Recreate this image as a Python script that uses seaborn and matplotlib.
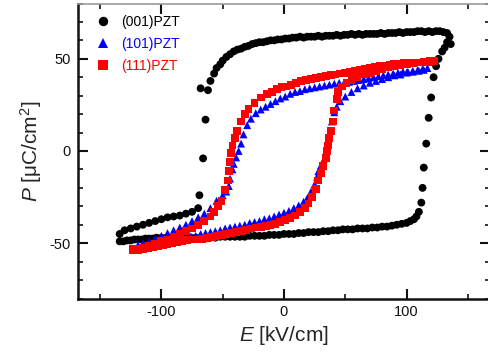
import numpy as np
import pandas as pd
import matplotlib
matplotlib.use("Agg")
import matplotlib.pyplot as plt
from matplotlib.ticker import MultipleLocator
import seaborn as sns

# ---------------- data ----------------
series_names = ["(001)PZT", "(101)PZT", "(111)PZT"]
series_colors = ["#000000", "#0000ff", "#ff0000"]
series_markers = ["o", "^", "s"]

# (001)PZT : descending branch then ascending branch
e_001 = [136, 135, 133, 130, 127, 124, 121, 118, 115, 112, 109, 106, 103, 100, 97, 94, 91, 88, 85, 82,
         79, 76, 73, 70, 67, 64, 61, 58, 55, 52, 49, 46, 43, 40, 37, 34, 31, 28, 25, 22, 19, 16, 13, 10,
         7, 4, 1, -2, -5, -8, -11, -14, -17, -20, -23, -26, -29, -32, -35, -38, -41, -44, -47, -50, -52,
         -55, -57, -60, -68, -62, -64, -66, -69, -70, -75, -80, -85, -90, -95, -100, -105, -110, -115,
         -120, -125, -130, -134,
         -134, -131, -128, -125, -122, -119, -116, -113, -110, -107, -104, -100, -96, -92, -88, -84, -80,
         -76, -72, -68, -64, -60, -56, -52, -48, -44, -40, -36, -32, -28, -24, -20, -16, -12, -8, -4, 0,
         4, 8, 12, 16, 20, 24, 28, 32, 36, 40, 44, 48, 52, 56, 60, 64, 68, 72, 76, 80, 84, 88, 92, 96,
         100, 103, 106, 108, 110, 112, 113, 114, 116, 118, 120, 122, 124, 126, 129, 131, 133]
p_001 = [58, 62, 64, 64.5, 65, 65, 64.5, 65, 64.5, 65, 65, 64.5, 64.5, 64.5, 64, 64.5, 64, 64, 64, 63.5,
         64, 63.5, 63.5, 63.5, 63.5, 63, 63.5, 63, 63.5, 63, 63, 62.5, 63, 62.5, 62.5, 62.5, 62, 62.5, 62,
         62, 62, 61.5, 62, 61.5, 61.5, 61, 61, 60.5, 60.5, 60, 60, 59.5, 59, 59, 58.5, 58, 57, 56.5, 55.5,
         55, 54, 52.5, 51, 49, 47, 45, 42, 38, 34, 33, 17, -4, -24, -31, -33, -34, -35, -35.5, -36, -37,
         -38, -39, -40, -41, -42, -43, -45,
         -49, -49, -48.5, -48.5, -48, -48, -48, -47.5, -47.5, -47.5, -47, -47, -47, -47, -47, -47, -47,
         -47, -47, -47, -47, -47, -47, -46.5, -46.5, -46.5, -46.5, -46.5, -46.5, -46, -46, -46, -46, -45.5,
         -45.5, -45.5, -45, -45, -45, -44.5, -44.5, -44, -44, -44, -43.5, -43.5, -43, -43, -42.5, -42.5,
         -42.5, -42, -42, -42, -41.5, -41.5, -41, -41, -40.5, -40, -39.5, -39, -38, -37, -35.5, -33, -28,
         -20, -9, 4, 18, 29, 40, 46, 50, 54, 56, 59]

# (101)PZT : descending branch then ascending branch
e_101 = [117, 113, 109, 105, 101, 97, 93, 89, 85, 81, 77, 73, 69, 65, 61, 57, 53, 49, 45, 41, 37, 33, 29,
         25, 21, 17, 13, 9, 5, 1, -3, -7, -11, -15, -19, -23, -27, -30, -33, -35, -37, -39, -41, -42, -44,
         -45, -47, -50, -55, -60, -65, -70, -75, -80, -85, -90, -95, -100, -105, -110, -115, -119,
         -116, -112, -108, -104, -100, -96, -92, -88, -84, -80, -76, -72, -68, -64, -60, -56, -52, -48,
         -44, -40, -36, -32, -28, -24, -20, -16, -12, -8, -4, 0, 4, 8, 12, 16, 19, 22, 25, 27, 28, 30, 33,
         35, 36, 37, 38, 39, 41, 43, 46, 50, 55, 60, 65, 70, 75, 80, 85, 90, 95, 100, 105, 110, 114]
p_101 = [45, 44.5, 44, 43.5, 43, 43, 42.5, 42, 41.5, 41, 40.5, 40, 39.5, 39, 38.5, 38, 37.5, 37, 37, 36.5,
         36, 35.5, 35, 34.5, 34, 33.5, 32.5, 32, 31, 29.5, 28.5, 27, 25.5, 24, 22.5, 20.5, 17.5, 14, 9, 4,
         0, -3.5, -7, -10, -15, -19, -22, -24, -27, -31, -34, -36, -38, -40, -41.5, -43, -44.5, -46, -47.5,
         -49, -50, -51,
         -51.5, -51, -50.5, -50, -49.5, -49, -48.5, -48, -47.5, -47, -46.5, -46, -45, -44.5, -44, -43.5,
         -43, -42, -41.5, -41, -40.5, -40, -39, -38.5, -38, -37, -36.5, -35.5, -34.5, -33.5, -32.5, -31,
         -29.5, -27.5, -25.5, -22, -18, -14, -11, -8, -4, 0, 4, 8, 11, 16, 21, 24, 27, 29.5, 32, 34, 35.5,
         37, 38, 39, 40, 41, 41.5, 42.5, 43, 43.5, 44]

# (111)PZT : descending branch then ascending branch
e_111 = [122, 118, 114, 110, 106, 102, 98, 94, 90, 86, 82, 78, 74, 70, 66, 62, 58, 54, 50, 46, 42, 38, 34,
         30, 26, 22, 18, 14, 10, 6, 2, -2, -6, -10, -14, -19, -24, -29, -32, -35, -38, -40, -42, -43, -44,
         -45, -46, -48, -51, -54, -57, -60, -65, -70, -75, -80, -85, -90, -95, -100, -105, -110, -115,
         -120, -123,
         -123, -119, -115, -111, -107, -103, -99, -95, -91, -87, -83, -79, -75, -71, -67, -63, -59, -55,
         -51, -47, -43, -39, -35, -31, -27, -23, -19, -15, -11, -7, -3, 1, 5, 9, 13, 17, 20, 23, 26, 28,
         30, 32, 34, 35, 36, 37, 38, 40, 41, 43, 44, 47, 51, 55, 60, 65, 70, 75, 80, 85, 90, 95, 100, 105,
         110, 115, 119]
p_111 = [49, 48.5, 48.5, 48, 48, 47.5, 47.5, 47, 47, 46.5, 46, 46, 45.5, 45, 44.5, 44, 43.5, 43, 42.5, 42,
         41.5, 41, 40.5, 40, 39.5, 39, 38.5, 38, 37, 36, 35, 34.5, 33.5, 32, 31, 29, 26, 23, 20, 16, 11, 7,
         3, -1, -6, -11, -16, -21, -27, -30, -33, -35.5, -38, -40, -42, -43.5, -45, -46.5, -48, -49, -50.5,
         -51.5, -52.5, -53, -53,
         -53.5, -53.5, -53, -52.5, -52, -51.5, -51, -50.5, -50, -49.5, -49, -48.5, -48, -48, -47.5, -47,
         -46.5, -46, -45.5, -45, -44.5, -44, -43.5, -43, -42, -41.5, -41, -40.5, -40, -39.5, -38.5, -37.5,
         -36.5, -35, -33, -31, -28.5, -25, -20.5, -16, -12, -8, -4, 0, 3, 7, 11, 16, 22, 28, 32, 35, 37,
         38.5, 40, 41.5, 42.5, 43.5, 44.5, 45.5, 46, 46.5, 47, 47.5, 48, 48.5, 49]

x_ticks = [-100, 0, 100]
y_ticks = [-50, 0, 50]

# ---------------- figure ----------------
sns.set_style("ticks")
plt.rcParams["font.family"] = ["Liberation Sans", "DejaVu Sans"]
plt.rcParams["mathtext.fontset"] = "custom"
plt.rcParams["mathtext.rm"] = "Liberation Sans"
plt.rcParams["mathtext.it"] = "Liberation Sans:italic"
plt.rcParams["axes.unicode_minus"] = False

df = pd.concat([
    pd.DataFrame({"E": e_001, "P": p_001, "film": series_names[0]}),
    pd.DataFrame({"E": e_101, "P": p_101, "film": series_names[1]}),
    pd.DataFrame({"E": e_111, "P": p_111, "film": series_names[2]}),
], ignore_index=True)

fig = plt.figure(figsize=(4.89, 3.58), dpi=100)
ax = fig.add_axes([78 / 489, 1 - 298.5 / 358, 412 / 489, 295 / 358])

sns.scatterplot(data=df, x="E", y="P", hue="film", style="film",
                hue_order=series_names, style_order=series_names,
                palette=dict(zip(series_names, series_colors)),
                markers=dict(zip(series_names, series_markers)),
                s=32, linewidth=0, edgecolor="none", ax=ax, legend=True)

ax.set_xlim(-168, 168)
ax.set_ylim(-80, 80)
ax.set_xticks(x_ticks)
ax.set_yticks(y_ticks)
ax.xaxis.set_minor_locator(MultipleLocator(50))
ax.yaxis.set_minor_locator(MultipleLocator(10))
ax.tick_params(which="both", direction="in", top=True, right=True, labelsize=10.5,
               colors="#111111", pad=5)
ax.tick_params(which="major", length=7, width=1.5)
ax.tick_params(which="minor", length=3.5, width=1.2)
for sp in ["left", "bottom"]:
    ax.spines[sp].set_linewidth(1.8)
    ax.spines[sp].set_color("#111111")
ax.spines["top"].set_linewidth(1.2)
ax.spines["top"].set_color("#999999")
ax.spines["right"].set_linewidth(1.2)
ax.spines["right"].set_color("#999999")

ax.set_xlabel(r"$E$ [kV/cm]", fontsize=15, labelpad=3)
ax.set_ylabel(r"$P$ [μC/cm$^2$]", fontsize=15, labelpad=4)

leg = ax.legend(loc="upper left", bbox_to_anchor=(0.0, 1.0), frameon=False, fontsize=10,
                handletextpad=0.3, labelspacing=0.6, borderaxespad=0.4, markerscale=1.2)
for txt, col in zip(leg.get_texts(), series_colors):
    txt.set_color(col)

fig.savefig("out.png", dpi=100)
